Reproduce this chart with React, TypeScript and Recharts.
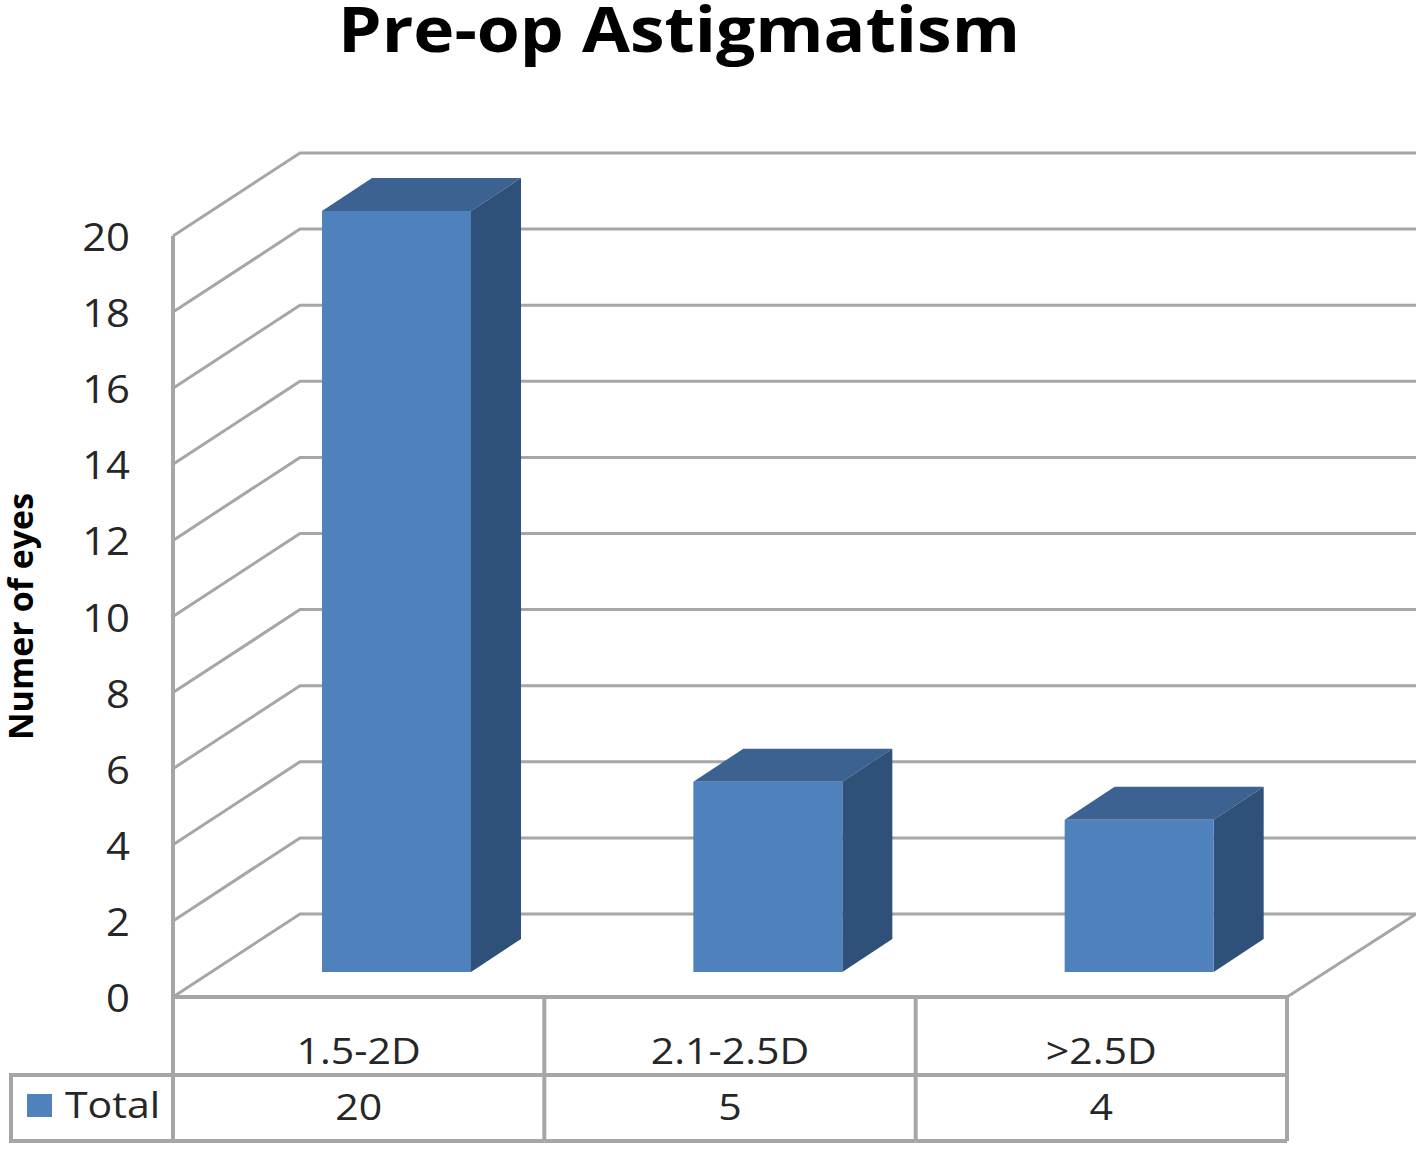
import { Bar, BarChart, CartesianGrid, XAxis, YAxis } from 'recharts';

const categories = ['1.5-2D', '2.1-2.5D', '>2.5D'];
const totals = [20, 5, 4];
const yTicks = [0, 2, 4, 6, 8, 10, 12, 14, 16, 18, 20];

const rows = categories.map((name, i) => ({ name, total: totals[i] }));

const FONT = '"Open Sans", sans-serif';
const LINE = '#a6a6a6';
const TEXT = '#262626';
const WIDTH = 1416;
const HEIGHT = 1149;
const PLOT_LEFT = 173;
const PLOT_RIGHT = 1287;
const CELL = (PLOT_RIGHT - PLOT_LEFT) / categories.length;

// wall depth of the fake 3D box
const WALL_DX = 127;
const WALL_DY = -83;
// bars stand a little way into the floor
const BAR_DX = 38;
const BAR_DY = -25;
const BAR_DEPTH_X = 50;
const BAR_DEPTH_Y = -33;

// the source image is stretched sideways, so the labels are too
function WideText({ x, y, anchor = 'middle', size = 36, stretch = 1.14, children }: any) {
	return (
		<text
			transform={`translate(${x},${y}) scale(${stretch},1)`}
			textAnchor={anchor}
			fontFamily={FONT}
			fontSize={size}
			fill={TEXT}
		>
			{children}
		</text>
	);
}

function WallLine({ x1, y1 }: any) {
	const backY = y1 + WALL_DY;
	const isFloor = Math.abs(y1 - 997) < 1;
	return (
		<g fill="none" stroke={LINE} strokeWidth={3}>
			<polyline points={`${x1},${y1} ${x1 + WALL_DX},${backY} ${WIDTH},${backY}`} />
			{isFloor && <line x1={PLOT_RIGHT} y1={y1} x2={WIDTH} y2={backY} />}
		</g>
	);
}

function Bar3D({ x, y, width, height }: any) {
	const left = x + BAR_DX;
	const top = y + BAR_DY;
	const right = left + width;
	const bottom = top + height;
	return (
		<g>
			<polygon
				points={`${left},${top} ${left + BAR_DEPTH_X},${top + BAR_DEPTH_Y} ${right + BAR_DEPTH_X},${top + BAR_DEPTH_Y} ${right},${top}`}
				fill="#3b6290"
			/>
			<polygon
				points={`${right},${top} ${right + BAR_DEPTH_X},${top + BAR_DEPTH_Y} ${right + BAR_DEPTH_X},${bottom + BAR_DEPTH_Y} ${right},${bottom}`}
				fill="#2f5078"
			/>
			<rect x={left} y={top} width={width} height={height} fill="#4f81bd" />
		</g>
	);
}

function ValueTick({ x, y, payload }: any) {
	return (
		<WideText x={x} y={y + 15} anchor="end" size={38} stretch={1.1}>
			{payload.value}
		</WideText>
	);
}

// the category axis doubles as the data table under the plot
function TableTick({ x, index, payload }: any) {
	const left = x - CELL / 2;
	const right = x + CELL / 2;
	const axisY = 997;
	const rowY = 1075;
	const bottomY = 1141;
	return (
		<g>
			<line x1={right} y1={axisY} x2={right} y2={bottomY} stroke={LINE} strokeWidth={4} />
			<line x1={left} y1={rowY} x2={right} y2={rowY} stroke={LINE} strokeWidth={4} />
			<line x1={left} y1={bottomY} x2={right} y2={bottomY} stroke={LINE} strokeWidth={4} />
			{index === 0 && (
				<g>
					<line x1={left} y1={axisY} x2={left} y2={bottomY} stroke={LINE} strokeWidth={4} />
					<polyline
						points={`${left},${rowY} 11,${rowY} 11,${bottomY} ${left},${bottomY}`}
						fill="none"
						stroke={LINE}
						strokeWidth={4}
					/>
					<rect x={27} y={1094} width={25} height={23} fill="#4f81bd" />
					<WideText x={65} y={1118} anchor="start">
						Total
					</WideText>
				</g>
			)}
			<WideText x={x} y={1064}>
				{payload.value}
			</WideText>
			<WideText x={x} y={1120}>
				{totals[index]}
			</WideText>
		</g>
	);
}

export default function App() {
	return (
		<div style={{ position: 'absolute', left: 0, top: 0, width: WIDTH, height: HEIGHT, background: '#fff' }}>
			<BarChart
				width={WIDTH}
				height={HEIGHT}
				data={rows}
				margin={{ top: 236, right: WIDTH - PLOT_RIGHT, bottom: 0, left: 0 }}
			>
				<text
					x={338}
					y={52}
					textAnchor="start"
					fontFamily={FONT}
					fontSize={62}
					fontWeight={700}
					fill="#000"
					textLength={682}
					lengthAdjust="spacingAndGlyphs"
				>
					Pre-op Astigmatism
				</text>
				<CartesianGrid horizontal={WallLine as any} vertical={false} />
				<XAxis
					dataKey="name"
					height={152}
					interval={0}
					tickLine={false}
					axisLine={{ stroke: LINE, strokeWidth: 4 }}
					tick={TableTick as any}
				/>
				<YAxis
					width={PLOT_LEFT}
					domain={[0, 20]}
					ticks={yTicks}
					interval={0}
					tickSize={0}
					tickMargin={43}
					axisLine={{ stroke: LINE, strokeWidth: 4 }}
					tick={ValueTick as any}
					label={{
						value: 'Numer of eyes',
						angle: -90,
						position: 'insideLeft',
						offset: 21,
						fontFamily: FONT,
						fontSize: 34,
						fontWeight: 700,
						fill: '#000',
						textAnchor: 'middle',
					}}
				/>
				<Bar dataKey="total" name="Total" barSize={149} shape={Bar3D as any} isAnimationActive={false} />
			</BarChart>
		</div>
	);
}
